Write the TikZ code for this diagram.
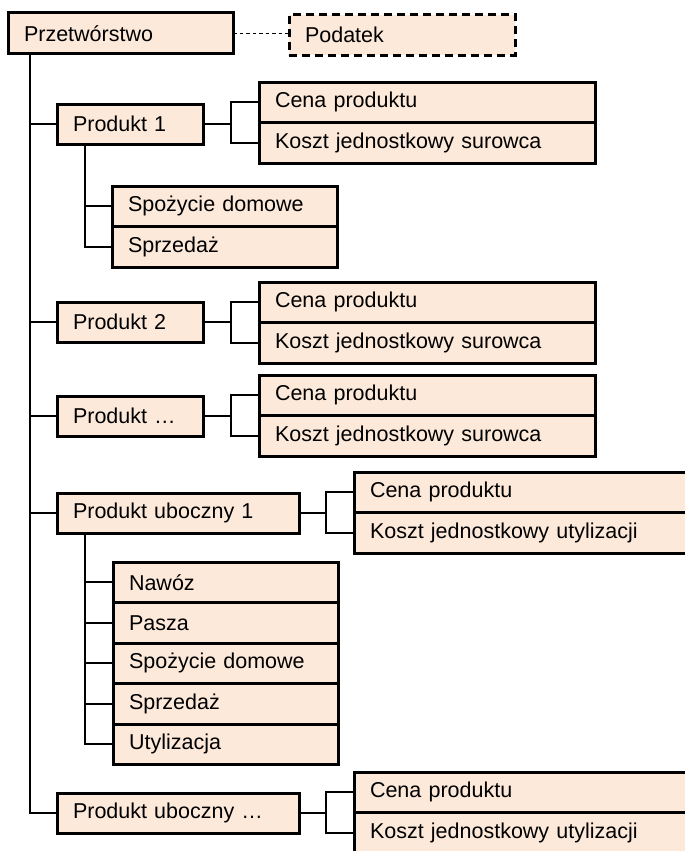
\documentclass[tikz,border=0pt]{standalone}
\usepackage{fontspec}
\setmainfont{Liberation Sans}
\usepackage{tikz}
\usetikzlibrary{positioning,calc}

\definecolor{peach}{RGB}{252,233,218}

\begin{document}
\begin{tikzpicture}[
    x=1pt, y=-1pt,
    box/.style={rectangle, draw, line width=3pt, fill=peach, align=left, inner xsep=16pt, inner ysep=0pt, minimum height=40.5pt, outer sep=0pt, anchor=north west, font=\fontsize{21.5}{25}\selectfont},
    rootbox/.style={box, text width=193pt},
    taxbox/.style={box, text width=194pt, dash pattern=on 8pt off 5pt},
    prodbox/.style={box, text width=114pt},
    byprodbox/.style={box, text width=210pt},
    leafbox/.style={box, text width=304pt},
    usebox/.style={box, text width=193pt},
    link/.style={line width=1.8pt},
    dashlink/.style={line width=1.4pt, dash pattern=on 3.5pt off 3pt}
]

\useasboundingbox (0,0) rectangle (685,851);
\clip (0,0) rectangle (685,851);

% Root and tax
\node[rootbox] (prz) at (8,13) {Przetwórstwo};
\node[taxbox] (pod) at (289,15) {Podatek};
\draw[dashlink] (prz.east) -- (prz.east -| pod.west);

% Produkt 1
\node[prodbox] (p1) at (57,104) {Produkt 1};
\node[leafbox] (cena1) at (259,82) {Cena produktu};
\node[leafbox, below=0pt of cena1] (koszt1) {Koszt jednostkowy surowca};
\node[usebox] (spoz1) at (112,186) {Spożycie domowe};
\node[usebox, below=0pt of spoz1] (sprz1) {Sprzedaż};

% Produkt 2
\node[prodbox] (p2) at (57,302) {Produkt 2};
\node[leafbox] (cena2) at (259,282) {Cena produktu};
\node[leafbox, below=0pt of cena2] (koszt2) {Koszt jednostkowy surowca};

% Produkt ...
\node[prodbox] (p3) at (57,396) {Produkt …};
\node[leafbox] (cena3) at (259,375) {Cena produktu};
\node[leafbox, below=0pt of cena3] (koszt3) {Koszt jednostkowy surowca};

% Produkt uboczny 1
\node[byprodbox] (pu1) at (57,493) {Produkt uboczny 1};
\node[leafbox] (cenau1) at (354,472) {Cena produktu};
\node[leafbox, below=0pt of cenau1] (kosztu1) {Koszt jednostkowy utylizacji};
\node[usebox] (naw) at (113,562) {Nawóz};
\node[usebox, below=0pt of naw] (pasza) {Pasza};
\node[usebox, below=0pt of pasza] (spoz2) {Spożycie domowe};
\node[usebox, below=0pt of spoz2] (sprz2) {Sprzedaż};
\node[usebox, below=0pt of sprz2] (utyl) {Utylizacja};

% Produkt uboczny ...
\node[byprodbox] (pu2) at (57,793) {Produkt uboczny …};
\node[leafbox] (cenau2) at (354,772) {Cena produktu};
\node[leafbox, below=0pt of cenau2] (kosztu2) {Koszt jednostkowy utylizacji};

% Trunk
\draw[link] ([xshift=22pt]prz.south west) |- (p1.west);
\draw[link] ([xshift=22pt]prz.south west) |- (p2.west);
\draw[link] ([xshift=22pt]prz.south west) |- (p3.west);
\draw[link] ([xshift=22pt]prz.south west) |- (pu1.west);
\draw[link] ([xshift=22pt]prz.south west) |- (pu2.west);

% Price and cost links
\draw[link] (p1.east) -- ++(28,0) |- (cena1.west);
\draw[link] (p1.east) -- ++(28,0) |- (koszt1.west);
\draw[link] (p2.east) -- ++(28,0) |- (cena2.west);
\draw[link] (p2.east) -- ++(28,0) |- (koszt2.west);
\draw[link] (p3.east) -- ++(28,0) |- (cena3.west);
\draw[link] (p3.east) -- ++(28,0) |- (koszt3.west);
\draw[link] (pu1.east) -- ++(27,0) |- (cenau1.west);
\draw[link] (pu1.east) -- ++(27,0) |- (kosztu1.west);
\draw[link] (pu2.east) -- ++(27,0) |- (cenau2.west);
\draw[link] (pu2.east) -- ++(27,0) |- (kosztu2.west);

% Uses
\draw[link] ([xshift=28pt]p1.south west) |- (spoz1.west);
\draw[link] ([xshift=28pt]p1.south west) |- (sprz1.west);
\draw[link] ([xshift=28pt]pu1.south west) |- (naw.west);
\draw[link] ([xshift=28pt]pu1.south west) |- (pasza.west);
\draw[link] ([xshift=28pt]pu1.south west) |- (spoz2.west);
\draw[link] ([xshift=28pt]pu1.south west) |- (sprz2.west);
\draw[link] ([xshift=28pt]pu1.south west) |- (utyl.west);

\end{tikzpicture}
\end{document}
